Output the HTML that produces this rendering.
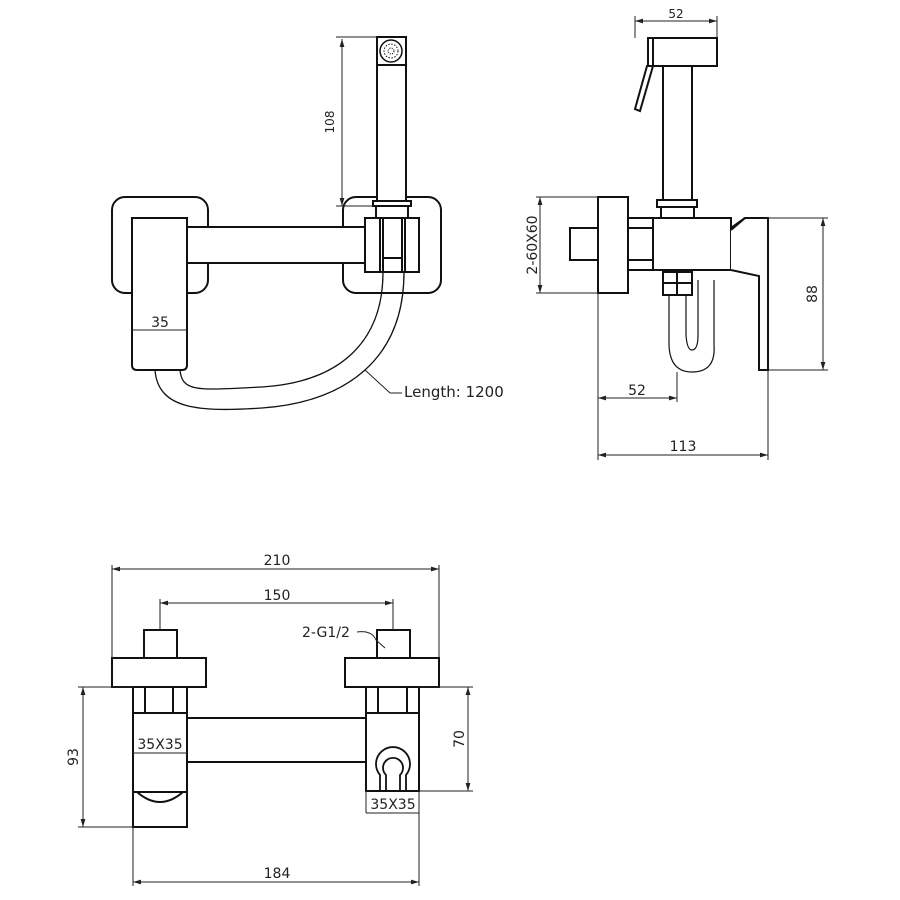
<!DOCTYPE html>
<html><head><meta charset="utf-8"><style>
html,body{margin:0;padding:0;background:#fff}
svg{display:block}
text{font-family:"DejaVu Sans","Liberation Sans",sans-serif;fill:#222}
</style></head><body>
<svg width="900" height="900" viewBox="0 0 900 900" xmlns="http://www.w3.org/2000/svg">
<defs>
<marker id="a" viewBox="0 0 10 6" refX="10" refY="3" markerWidth="8" markerHeight="5" orient="auto-start-reverse" markerUnits="userSpaceOnUse"><path d="M0,0L10,3L0,6z" fill="#222"/></marker>
</defs>
<g fill="none" stroke="#111" stroke-width="2">
<rect x="112" y="197" width="96" height="96" rx="13"/>
<rect x="343" y="197" width="98" height="96" rx="13"/>
<rect x="187" y="227" width="178" height="36" fill="#fff"/>
<path d="M132,218H187V365Q187,370 182,370H137Q132,370 132,365Z" fill="#fff"/>
<rect x="365" y="218" width="54" height="54" fill="#fff"/>
<path d="M380,218V272M383,218V272M402,218V272M405,218V272M383,258H402"/>
<rect x="373" y="201" width="38" height="5" fill="#fff"/>
<path d="M376,206V218M408,206V218"/>
<rect x="377" y="37" width="29" height="164" fill="#fff"/>
<path d="M377,65H406"/>
<circle cx="391" cy="51" r="11" stroke-width="1.5"/>
<circle cx="391" cy="51" r="7" stroke-width="1" stroke-dasharray="1.5 1.5"/>
<circle cx="391" cy="51" r="3" stroke-width="1" stroke-dasharray="1.2 1.2"/>
<g stroke-width="1.3">
<path d="M155,370C158,410 200,412 262,408C345,402 404,360 404,272"/>
<path d="M180,370C182,393 200,390 262,387C340,382 383,342 383,272"/>
</g>
<rect x="648" y="38" width="69" height="28"/>
<path d="M653,38V66"/>
<path d="M647,66L653,66L640,111L635,109Z" fill="#fff"/>
<rect x="663" y="66" width="29" height="134"/>
<rect x="657" y="200" width="40" height="7"/>
<path d="M661,207V218M694,207V218"/>
<rect x="598" y="197" width="30" height="96"/>
<rect x="570" y="228" width="28" height="32"/>
<rect x="628" y="218" width="25" height="52"/>
<path d="M628,228H653M628,260H653"/>
<rect x="653" y="218" width="78" height="52"/>
<path d="M731,230L745,218H768V370H759V276L731,270" fill="#fff"/>
<path d="M731,228L745,218"/>
<g stroke-width="1.2">
<path d="M669,295V345Q670,372 692,372Q716,372 714,345V280"/>
<path d="M686,295V335Q687,350 692,350Q698,350 698,335V280"/>
</g>
<rect x="663" y="272" width="29" height="23" fill="#fff"/>
<path d="M677,272V295M663,283H692"/>
<rect x="144" y="630" width="33" height="28"/>
<rect x="112" y="658" width="94" height="29"/>
<rect x="133" y="687" width="54" height="26"/>
<path d="M145,687V713M173,687V713"/>
<rect x="133" y="713" width="54" height="114"/>
<path d="M133,792H187M137,792Q160,812 183,792"/>
<rect x="187" y="718" width="179" height="44"/>
<rect x="377" y="630" width="33" height="28"/>
<rect x="345" y="658" width="94" height="29"/>
<rect x="366" y="687" width="53" height="26"/>
<path d="M378,687V713M407,687V713"/>
<rect x="366" y="713" width="53" height="78"/>
<path d="M380,791V775A17,17 0 1 1 406,775V791H400V775A10,10 0 1 0 386,775V791Z" stroke-width="1.8"/>
</g>
<g fill="none" stroke="#222" stroke-width="1">
<path d="M342,39V206" marker-start="url(#a)" marker-end="url(#a)"/>
<path d="M336,37H377M336,206H373"/>
<path d="M132,330H187"/>
<path d="M365,370L390,393H402"/>
<path d="M635,21H717" marker-start="url(#a)" marker-end="url(#a)"/>
<path d="M635,16V38M717,16V38"/>
<path d="M540,197V293" marker-start="url(#a)" marker-end="url(#a)"/>
<path d="M536,197H598M536,293H598"/>
<path d="M823,218V370" marker-start="url(#a)" marker-end="url(#a)"/>
<path d="M768,218H828M768,370H828"/>
<path d="M598,398H677" marker-start="url(#a)" marker-end="url(#a)"/>
<path d="M598,455H768" marker-start="url(#a)" marker-end="url(#a)"/>
<path d="M598,293V460M677,372V402M768,370V460"/>
<path d="M112,569H439" marker-start="url(#a)" marker-end="url(#a)"/>
<path d="M112,565V658M439,565V658"/>
<path d="M160,603H393" marker-start="url(#a)" marker-end="url(#a)"/>
<path d="M160,599V630M393,599V630"/>
<path d="M83,687V827" marker-start="url(#a)" marker-end="url(#a)"/>
<path d="M78,687H133M78,827H133"/>
<path d="M468,687V791" marker-start="url(#a)" marker-end="url(#a)"/>
<path d="M419,687H473M419,791H473"/>
<path d="M133,753H187"/>
<path d="M366,791V813M419,791V813M366,813H419"/>
<path d="M133,827V886M419,813V886"/>
<path d="M133,882H419" marker-start="url(#a)" marker-end="url(#a)"/>
<path d="M357,632Q372,630 376,640L385,648"/>
</g>
<g font-size="14">
<text x="334" y="122" text-anchor="middle" transform="rotate(-90 334 122)" font-size="12">108</text>
<text x="160" y="327" text-anchor="middle">35</text>
<text x="404" y="397" font-size="15">Length: 1200</text>
<text x="676" y="18" text-anchor="middle" font-size="12">52</text>
<text x="537" y="245" text-anchor="middle" transform="rotate(-90 537 245)">2-60X60</text>
<text x="817" y="294" text-anchor="middle" transform="rotate(-90 817 294)">88</text>
<text x="637" y="395" text-anchor="middle">52</text>
<text x="683" y="451" text-anchor="middle">113</text>
<text x="277" y="565" text-anchor="middle">210</text>
<text x="277" y="600" text-anchor="middle">150</text>
<text x="302" y="637">2-G1/2</text>
<text x="78" y="757" text-anchor="middle" transform="rotate(-90 78 757)">93</text>
<text x="464" y="739" text-anchor="middle" transform="rotate(-90 464 739)">70</text>
<text x="160" y="749" text-anchor="middle">35X35</text>
<text x="393" y="809" text-anchor="middle">35X35</text>
<text x="277" y="878" text-anchor="middle">184</text>
</g>
</svg>
</body></html>
